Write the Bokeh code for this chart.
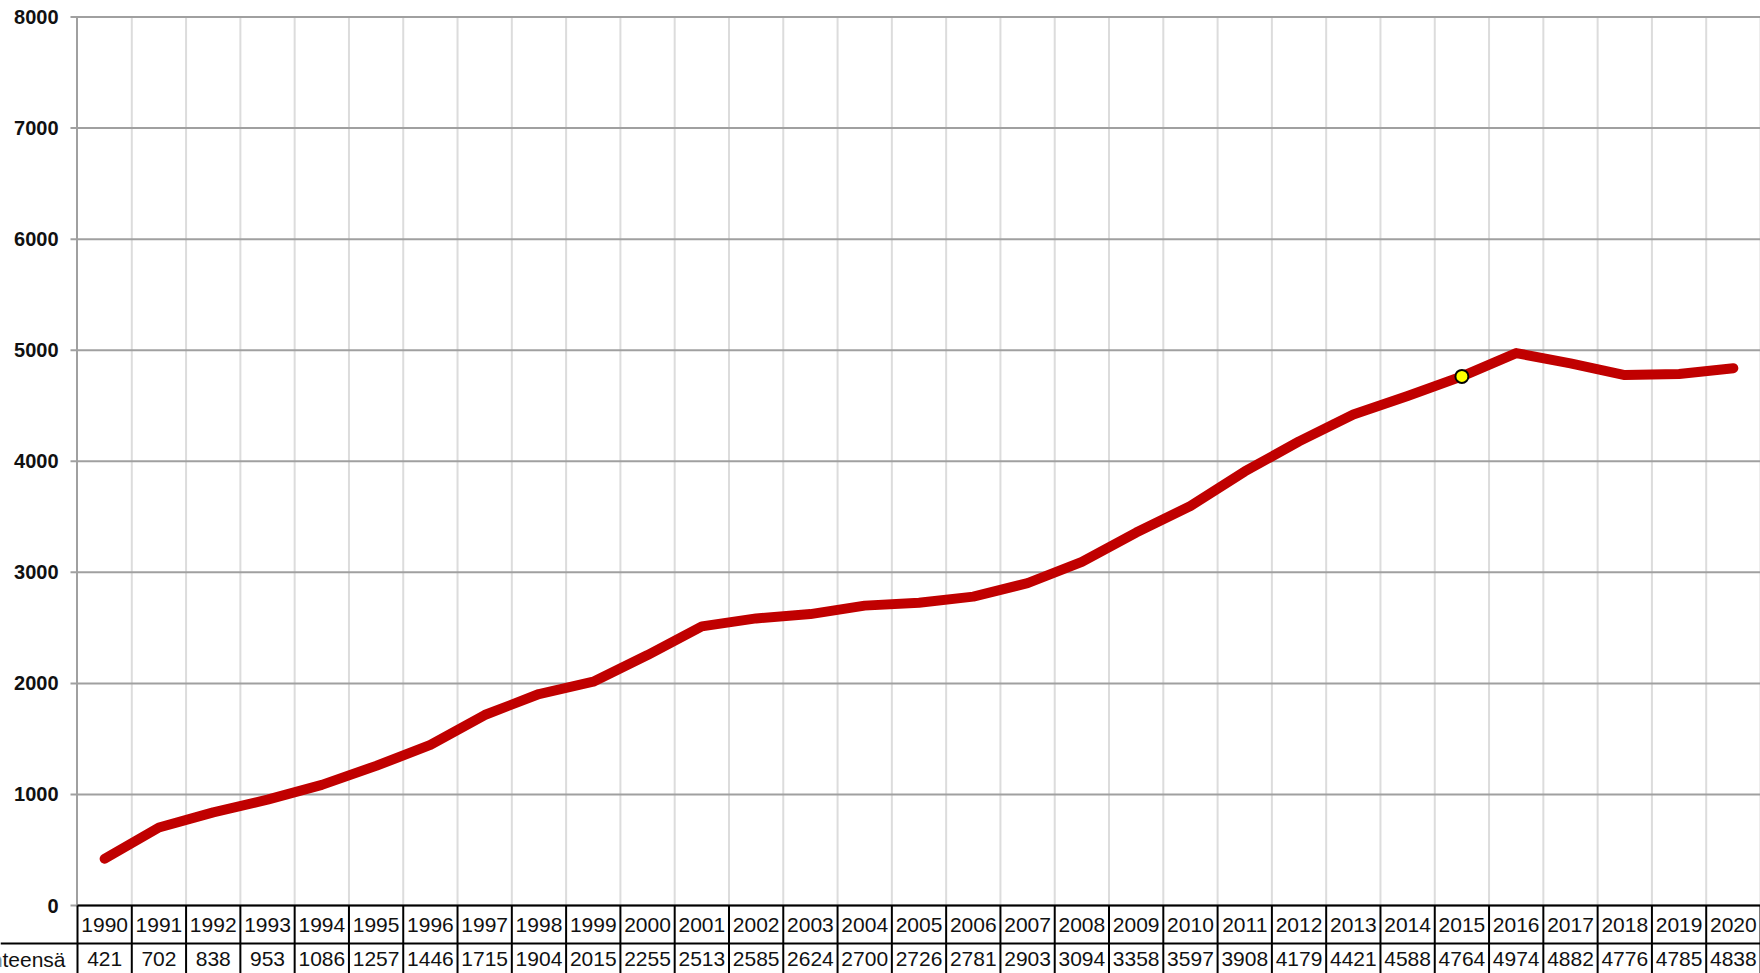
from bokeh.plotting import figure
from bokeh.models import Range1d, ColumnDataSource
from bokeh.embed import file_html
from bokeh.resources import INLINE
from bokeh.core.properties import value

# ---- data ----
years = list(range(1990, 2021))
totals = [421, 702, 838, 953, 1086, 1257, 1446, 1715, 1904, 2015, 2255, 2513,
          2585, 2624, 2700, 2726, 2781, 2903, 3094, 3358, 3597, 3908, 4179,
          4421, 4588, 4764, 4974, 4882, 4776, 4785, 4838]
row_label = "Yhteensä"
highlight_year = 2015
y_ticks = [0, 1000, 2000, 3000, 4000, 5000, 6000, 7000, 8000]
y_tick_labels = [str(t) for t in y_ticks]

# ---- layout constants (pixels) ----
W, H = 1760, 973
PLOT_LEFT_PX = 77          # left edge of the chart area
TOP_PX = 16.5              # pixel row of the top tick
PX_PER_UNIT = 888.5 / 8000.0
ROW1_PX = 38
ROW2_TEXT_PX = 15.5
TICK_PX = 7
LABEL_GAP_PX = 19
ROWLABEL_GAP_PX = 12
COL_PX = (W - PLOT_LEFT_PX) / len(years)

x_lo = years[0] - 0.5
x_hi = years[-1] + 0.5
x_start = x_lo - PLOT_LEFT_PX / COL_PX
y_end = y_ticks[-1] + TOP_PX / PX_PER_UNIT
y_start = y_end - H / PX_PER_UNIT
row1 = ROW1_PX / PX_PER_UNIT
row2_text = ROW2_TEXT_PX / PX_PER_UNIT
boundaries = [y - 0.5 for y in years] + [x_hi]

p = figure(width=W, height=H, output_backend="svg", toolbar_location=None,
           x_range=Range1d(x_start, x_hi), y_range=Range1d(y_start, y_end),
           x_axis_location=None, y_axis_location=None,
           min_border_left=0, min_border_right=0,
           min_border_top=0, min_border_bottom=0)
p.outline_line_color = None
p.background_fill_color = "white"
p.border_fill_color = "white"
p.xgrid.visible = False
p.ygrid.visible = False

# vertical grid lines (light grey)
p.segment(x0=boundaries[1:], y0=[0] * (len(boundaries) - 1),
          x1=boundaries[1:], y1=[y_ticks[-1]] * (len(boundaries) - 1),
          line_color="#dcdcdc", line_width=2)
# horizontal grid lines incl. tick marks
p.segment(x0=[x_lo - TICK_PX / COL_PX] * len(y_ticks), y0=y_ticks,
          x1=[x_hi] * len(y_ticks), y1=y_ticks,
          line_color="#a0a0a0", line_width=2)
# value axis line
p.segment(x0=[x_lo - 0.5 / COL_PX], y0=[y_ticks[0]],
          x1=[x_lo - 0.5 / COL_PX], y1=[y_ticks[-1]],
          line_color="#a0a0a0", line_width=2)
# value axis labels
p.text(x=[x_lo - LABEL_GAP_PX / COL_PX] * len(y_ticks), y=y_ticks,
       text=y_tick_labels, text_align="right", text_baseline="middle",
       text_font=value("Liberation Sans"), text_font_style="bold",
       text_font_size="20px", text_color="#111111")

# data line + highlight marker
p.line(years, totals, line_color="#c00000", line_width=10,
       line_join="round", line_cap="round")
hi = years.index(highlight_year)
p.scatter([years[hi]], [totals[hi]], size=13, fill_color="#ffff00",
          line_color="black", line_width=2)

# table below the chart
p.segment(x0=[x_lo, x_start], y0=[0, -row1], x1=[x_hi, x_hi], y1=[0, -row1],
          line_color="black", line_width=2)
p.segment(x0=boundaries, y0=[0] * len(boundaries), x1=boundaries,
          y1=[y_start] * len(boundaries), line_color="black", line_width=2)

src = ColumnDataSource(dict(
    x=years,
    yr=[str(y) for y in years],
    tot=[str(t) for t in totals],
    y1=[-row1 / 2] * len(years),
    y2=[-row1 - row2_text] * len(years),
))
p.text(x="x", y="y1", text="yr", source=src, text_align="center",
       text_baseline="middle", text_font=value("Liberation Sans"),
       text_font_size="21px", text_color="#111111")
p.text(x="x", y="y2", text="tot", source=src, text_align="center",
       text_baseline="middle", text_font=value("Liberation Sans"),
       text_font_size="21px", text_color="#111111")
p.text(x=[x_lo - ROWLABEL_GAP_PX / COL_PX], y=[-row1 - row2_text],
       text=[row_label], text_align="right", text_baseline="middle",
       text_font=value("Liberation Sans"), text_font_size="21px",
       text_color="#111111")

open("out.html", "w").write(file_html(p, INLINE))
